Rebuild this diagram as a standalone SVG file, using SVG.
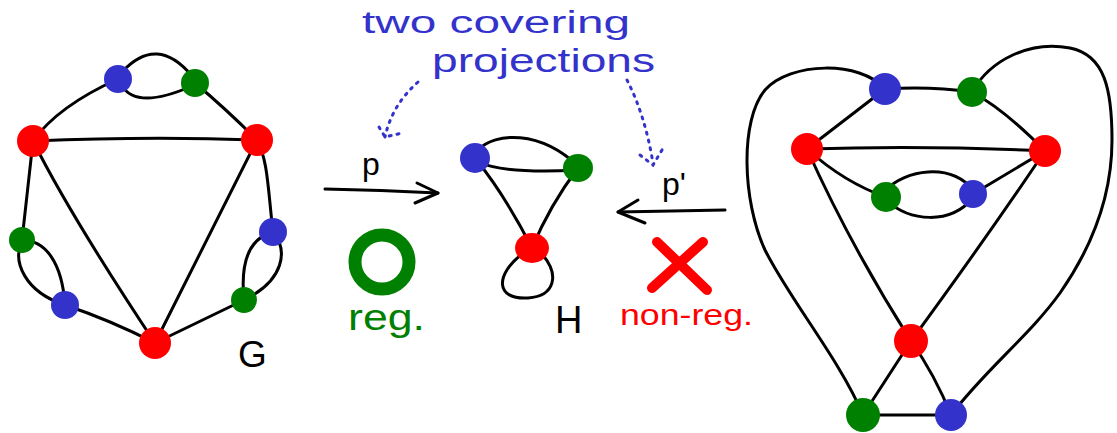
<svg xmlns="http://www.w3.org/2000/svg" width="1117" height="433" viewBox="0 0 1117 433">
<style>
.e{fill:none;stroke:#000;stroke-width:3;stroke-linecap:round;stroke-linejoin:round}
.r{fill:#ff0000}.g{fill:#008000}.b{fill:#3333cc}
.t{font-family:"Liberation Sans","DejaVu Sans",sans-serif}
.dot{fill:none;stroke:#3333cc;stroke-width:3;stroke-linecap:round;stroke-dasharray:2 6}
</style>
<rect width="1117" height="433" fill="#fff"/>
<g id="connectors">
<!-- G -->
<path class="e" d="M33 141 Q58 106 118 79"/>
<path class="e" d="M122 72 Q157 34 192 76"/>
<path class="e" d="M122 86 Q137 110 192 86"/>
<path class="e" d="M195 83 Q225 108 257 140"/>
<path class="e" d="M33 141 Q150 136 257 140"/>
<path class="e" d="M33 141 L22 240"/>
<path class="e" d="M33 141 Q70 215 155 343"/>
<path class="e" d="M22 240 C45 240 62 262 65 305"/>
<path class="e" d="M22 240 C12 262 25 292 65 305"/>
<path class="e" d="M65 305 Q110 320 155 343"/>
<path class="e" d="M257 140 Q218 218 155 343"/>
<path class="e" d="M257 140 C268 160 268 190 273 232"/>
<path class="e" d="M273 232 C250 238 240 260 244 300"/>
<path class="e" d="M273 232 C288 250 285 280 244 300"/>
<path class="e" d="M244 300 L155 343"/>
<!-- H -->
<path class="e" d="M478 150 C495 132 540 130 578 166"/>
<path class="e" d="M478 162 C500 172 540 172 578 170"/>
<path class="e" d="M475 158 Q505 195 532 248"/>
<path class="e" d="M578 168 Q550 205 532 248"/>
<path class="e" d="M522 254 C495 275 495 300 528 298 C555 296 560 275 542 254"/>
<!-- right graph -->
<path class="e" d="M885 89 C860 60 790 62 765 90 C740 120 742 200 765 250 C790 300 840 360 863 415"/>
<path class="e" d="M972 92 C990 60 1030 40 1070 48 C1105 55 1112 90 1112 140 C1112 200 1090 250 1060 293 C1030 335 985 370 951 415"/>
<path class="e" d="M885 89 Q930 86 972 92"/>
<path class="e" d="M885 89 L807 149"/>
<path class="e" d="M972 92 Q1005 110 1045 151"/>
<path class="e" d="M807 149 Q925 145 1045 151"/>
<path class="e" d="M807 149 Q845 183 886 197"/>
<path class="e" d="M886 190 C905 170 950 162 973 190"/>
<path class="e" d="M886 200 C910 222 950 225 973 198"/>
<path class="e" d="M973 194 L1045 151"/>
<path class="e" d="M807 149 Q850 245 911 341"/>
<path class="e" d="M1045 151 Q985 240 911 341"/>
<path class="e" d="M911 341 L863 415"/>
<path class="e" d="M911 341 Q935 375 951 415"/>
<path class="e" d="M863 415 L951 415"/>
<!-- projection arrows -->
<path class="e" d="M325 189 Q380 190 438 193"/>
<path class="e" d="M417 183 L438 193 L415 203"/>
<path class="e" d="M725 210 Q670 211 618 212"/>
<path class="e" d="M638 200 L618 212 L645 223"/>
<!-- dotted annotation arrows -->
<path class="dot" d="M418 82 Q392 105 385 137"/>
<path class="dot" d="M379 127 L385 137 L402 133"/>
<path class="dot" d="M627 80 Q645 115 653 163"/>
<path class="dot" d="M640 155 L653 165 L665 145"/>
</g>
<g id="G-nodes">
<circle id="g-b1" class="b" cx="118" cy="79" r="14"/>
<circle id="g-g1" class="g" cx="195" cy="83" r="14"/>
<circle id="g-r1" class="r" cx="33" cy="141" r="16"/>
<circle id="g-r2" class="r" cx="257" cy="140" r="16"/>
<circle id="g-g2" class="g" cx="22" cy="240" r="13"/>
<circle id="g-b2" class="b" cx="65" cy="305" r="14"/>
<circle id="g-r3" class="r" cx="155" cy="343" r="16"/>
<circle id="g-b3" class="b" cx="273" cy="232" r="14"/>
<circle id="g-g3" class="g" cx="244" cy="300" r="13"/>
</g>
<g id="H-nodes">
<ellipse id="h-b" class="b" cx="475" cy="158" rx="15" ry="15"/>
<ellipse id="h-g" class="g" cx="578" cy="168" rx="15" ry="14"/>
<ellipse id="h-r" class="r" cx="532" cy="248" rx="17" ry="15"/>
</g>
<g id="Gp-nodes">
<circle id="p-b1" class="b" cx="885" cy="89" r="16"/>
<circle id="p-g1" class="g" cx="972" cy="92" r="15"/>
<circle id="p-r1" class="r" cx="807" cy="149" r="16"/>
<circle id="p-r2" class="r" cx="1045" cy="151" r="16"/>
<circle id="p-g2" class="g" cx="886" cy="197" r="15"/>
<circle id="p-b2" class="b" cx="973" cy="194" r="14"/>
<circle id="p-r3" class="r" cx="911" cy="341" r="17"/>
<circle id="p-g3" class="g" cx="863" cy="415" r="17"/>
<circle id="p-b3" class="b" cx="951" cy="415" r="16"/>
</g>
<g id="marks">
<circle cx="382" cy="262" r="27" fill="none" stroke="#008000" stroke-width="13"/>
<path d="M657 242 L707 290 M703 242 L652 288" fill="none" stroke="#ff0000" stroke-width="10" stroke-linecap="round"/>
</g>
<g id="labels" class="t">
<text x="362" y="33" font-size="31" fill="#3333cc" textLength="268" lengthAdjust="spacingAndGlyphs">two covering</text>
<text x="432" y="72" font-size="33" fill="#3333cc" textLength="223" lengthAdjust="spacingAndGlyphs">projections</text>
<text x="362" y="175" font-size="32" fill="#000">p</text>
<text x="662" y="195" font-size="32" fill="#000">p'</text>
<text x="238" y="367" font-size="37" fill="#000">G</text>
<text x="555" y="333" font-size="38" fill="#000">H</text>
<text x="348" y="330" font-size="36" fill="#008000" textLength="77" lengthAdjust="spacingAndGlyphs">reg.</text>
<text x="620" y="325" font-size="30" fill="#ff0000" textLength="133" lengthAdjust="spacingAndGlyphs">non-reg.</text>
</g>
</svg>
